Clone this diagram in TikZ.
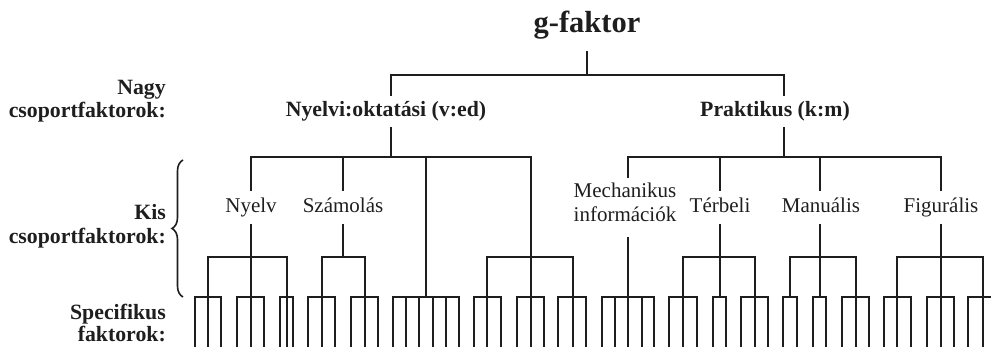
\documentclass[tikz,border=0pt]{standalone}
\usepackage{fontspec}
\setmainfont{Liberation Serif}
\usetikzlibrary{decorations.pathreplacing}
\definecolor{ink}{HTML}{1E1E1E}
\begin{document}
\begin{tikzpicture}[x=1pt,y=-1pt,
  ln/.style={line width=1.7pt, draw=ink, line cap=rect},
  big/.style={font=\fontsize{30.5}{32}\selectfont\bfseries, text=ink, inner sep=0},
  hd/.style={font=\fontsize{21.8}{24}\selectfont\bfseries, text=ink, inner sep=0},
  sub/.style={font=\fontsize{21}{24}\selectfont, text=ink, inner sep=0}]
\useasboundingbox (0,0) rectangle (991,347);
\clip (0,0) rectangle (991,347);

% texts
\node[big, anchor=base] (g) at (587,33) {g-faktor};
\node[hd, anchor=base] (nyo) at (386,117) {Nyelvi:oktatási (v:ed)};
\node[hd, anchor=base] (pra) at (775,117) {Praktikus (k:m)};
\node[hd, anchor=base east] (l1a) at (166,95) {Nagy};
\node[hd, anchor=base east] (l1b) at (166,118) {csoportfaktorok:};
\node[hd, anchor=base east] (l2a) at (166,220) {Kis};
\node[hd, anchor=base east] (l2b) at (166,244) {csoportfaktorok:};
\node[hd, anchor=base east] (l3a) at (166,320) {Specifikus};
\node[hd, anchor=base east] (l3b) at (166,342) {faktorok:};
\node[sub, anchor=base] (nyelv) at (251,213) {Nyelv};
\node[sub, anchor=base] (szam) at (343,213) {Számolás};
\node[sub, anchor=base] (mech1) at (625,198) {Mechanikus};
\node[sub, anchor=base] (mech2) at (625,222) {információk};
\node[sub, anchor=base] (terb) at (720,213) {Térbeli};
\node[sub, anchor=base] (manu) at (821,213) {Manuális};
\node[sub, anchor=base] (figu) at (941,213) {Figurális};

% level 1
\coordinate (gB) at (587,52); \coordinate (gJ) at (587,75);
\coordinate (nyT) at (391,95); \coordinate (prT) at (784,95);
\draw[ln] (gB) -- (gJ);
\draw[ln] (nyT) |- (gJ) -| (prT);

% level 2
\coordinate (nyB) at (391,128); \coordinate (nyJ) at (391,157);
\coordinate (prB) at (784,128); \coordinate (prJ) at (784,157);
\draw[ln] (nyB) -- (nyJ);
\draw[ln] (prB) -- (prJ);

% leaf groups
\foreach \i/\px/\fa/\la/\lv in {
  1/208/195/221/{195,208,221},
  2/251/237/264/{237,251,264},
  3/287/280/293/{280,287,293},
  4/322/308/335/{308,322,335},
  5/365/351/378/{351,365,378},
  6/426/393/459/{393,406,419,433,446,459},
  7/487/474/501/{474,487,501},
  8/531/517/544/{517,531,544},
  9/573/558/586/{558,573,586},
  10/628/602/654/{602,615,628,642,654},
  11/683/669/697/{669,683,697},
  12/720/713/726/{713,726},
  13/755/741/768/{741,755,768},
  14/790/783/797/{783,797},
  15/820/813/826/{813,826},
  16/856/842/869/{842,856,869},
  17/897/884/911/{884,897,911},
  18/941/927/954/{927,941,954},
  19/983/968/997/{968,983,997}}{
  \coordinate (p\i) at (\px,297);
  \coordinate (f\i) at (\fa,297);
  \coordinate (e\i) at (\la,297);
  \draw[ln] (f\i) -- (e\i);
  \foreach \x [count=\k] in \lv {
    \coordinate (t\i-\k) at (\x,297);
    \coordinate (b\i-\k) at (\x,352);
    \draw[ln] (t\i-\k) -- (b\i-\k);
  }
}

% left main branch children
\coordinate (nyelvT) at (251,190); \coordinate (nyelvB) at (251,225); \coordinate (nyelvJ) at (251,257);
\coordinate (szamT) at (343,190); \coordinate (szamB) at (343,225); \coordinate (szamJ) at (343,257);
\coordinate (dirT) at (426,157);
\coordinate (midJ) at (531,257);
\draw[ln] (nyelvT) |- (nyJ) -| (midJ);
\draw[ln] (szamT) -- (szamT |- nyJ);
\draw[ln] (dirT) -- (p6);
\draw[ln] (nyelvB) -- (nyelvJ);
\draw[ln] (p1) |- (nyelvJ) -| (p3);
\draw[ln] (nyelvJ) -- (p2);
\draw[ln] (szamB) -- (szamJ);
\draw[ln] (p4) |- (szamJ) -| (p5);
\draw[ln] (p7) |- (midJ) -| (p9);
\draw[ln] (midJ) -- (p8);

% right main branch children
\coordinate (mechT) at (628,177); \coordinate (mechB) at (628,238);
\coordinate (terbT) at (720,190); \coordinate (terbB) at (720,225); \coordinate (terbJ) at (720,257);
\coordinate (manuT) at (820,190); \coordinate (manuB) at (820,225); \coordinate (manuJ) at (820,257);
\coordinate (figuT) at (941,190); \coordinate (figuB) at (941,225); \coordinate (figuJ) at (941,257);
\draw[ln] (mechT) |- (prJ) -| (figuT);
\draw[ln] (terbT) -- (terbT |- prJ);
\draw[ln] (manuT) -- (manuT |- prJ);
\draw[ln] (mechB) -- (p10);
\draw[ln] (terbB) -- (terbJ);
\draw[ln] (p11) |- (terbJ) -| (p13);
\draw[ln] (terbJ) -- (p12);
\draw[ln] (manuB) -- (manuJ);
\draw[ln] (p14) |- (manuJ) -| (p16);
\draw[ln] (manuJ) -- (p15);
\draw[ln] (figuB) -- (figuJ);
\draw[ln] (p17) |- (figuJ) -| (p19);
\draw[ln] (figuJ) -- (p18);

% brace
\coordinate (br1) at (183,297); \coordinate (br2) at (183,160);
\draw[line width=1.6pt, draw=ink, decorate, decoration={brace, amplitude=11pt}] (br1) -- (br2);
\end{tikzpicture}
\end{document}
